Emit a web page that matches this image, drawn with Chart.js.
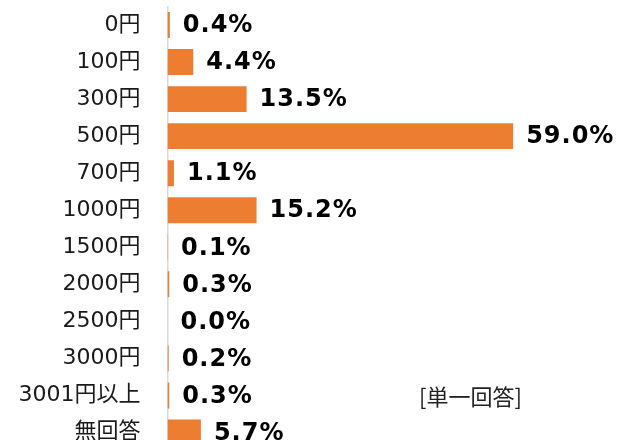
<!DOCTYPE html>
<html><head><meta charset="utf-8">
<script src="https://cdn.jsdelivr.net/npm/chart.js@4/dist/chart.umd.min.js"></script>
<style>
html,body{margin:0;padding:0;background:#fff;}
#wrap{position:relative;width:622px;height:440px;overflow:hidden;}
#box{position:absolute;left:0;top:0;width:622px;height:451px;}
#note{position:absolute;left:419px;top:381px;font-family:"Noto Sans CJK JP",sans-serif;font-size:22px;color:#222;line-height:28px;white-space:nowrap;}
</style></head>
<body>
<div id="wrap"><div id="box"><canvas id="c" width="622" height="451"></canvas></div><div id="note">[単一回答]</div></div>
<script>
const categories = ["0円","100円","300円","500円","700円","1000円","1500円","2000円","2500円","3000円","3001円以上","無回答"];
const values = [0.4,4.4,13.5,59.0,1.1,15.2,0.1,0.3,0.0,0.2,0.3,5.7];

const valueLabels = {
  id:'valueLabels',
  afterDatasetsDraw(chart){
    const ctx = chart.ctx;
    const meta = chart.getDatasetMeta(0);
    ctx.save();
    ctx.font = 'bold 24px "DejaVu Sans", sans-serif';
    try{ ctx.letterSpacing = '1px'; }catch(e){}
    ctx.fillStyle = '#000';
    ctx.textAlign = 'left';
    ctx.textBaseline = 'middle';
    meta.data.forEach((bar,i)=>{
      ctx.fillText(values[i].toFixed(1)+'%', bar.x + 13, bar.y + 1);
    });
    ctx.restore();
  }
};

new Chart(document.getElementById('c'),{
  type:'bar',
  data:{labels:categories,datasets:[{data:values,backgroundColor:'#ED7D31',borderWidth:0,categoryPercentage:1,barPercentage:0.7}]},
  options:{
    indexAxis:'y',responsive:false,animation:false,
    layout:{padding:{top:6.5,right:103,bottom:0,left:0}},
    plugins:{legend:{display:false},tooltip:{enabled:false}},
    scales:{
      x:{display:false,min:0,max:60},
      y:{
        grid:{display:false,drawTicks:false},
        border:{display:true,color:'#d9d9d9',width:1.5},
        ticks:{color:'#1a1a1a',padding:27,font:{family:'"DejaVu Sans","Noto Sans CJK JP",sans-serif',size:22}},
        afterFit(s){s.width=167.5;s.paddingTop=0;s.paddingBottom=0;}
      }
    }
  },
  plugins:[valueLabels]
});
</script>
</body></html>
